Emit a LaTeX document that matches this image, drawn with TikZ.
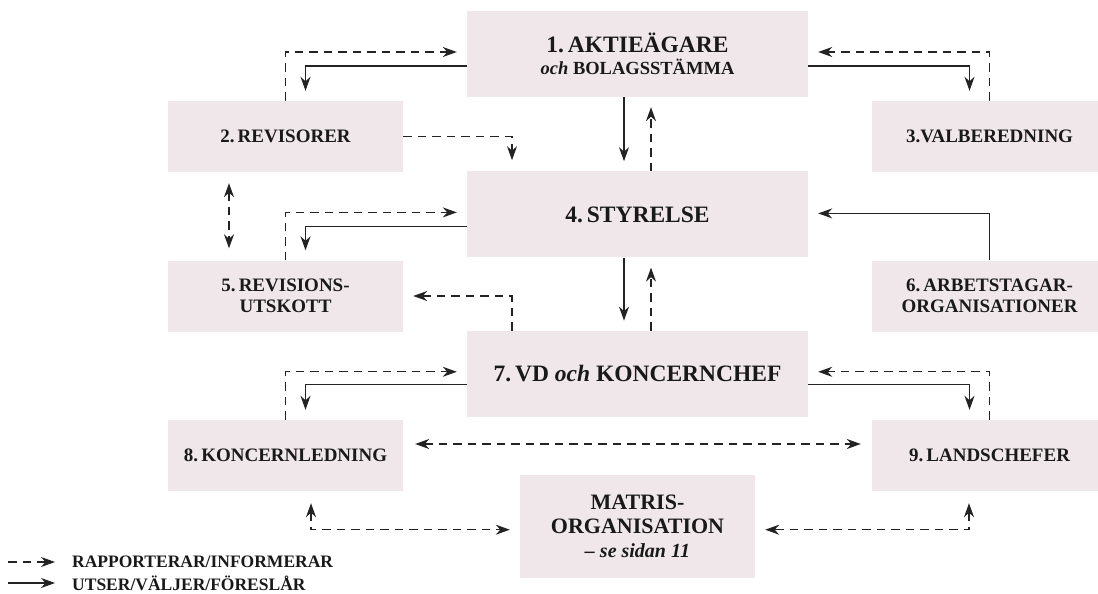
\documentclass[tikz,border=0pt]{standalone}
\usepackage{fontspec}
\setmainfont{Liberation Serif}
\usepackage{tikz}
\usetikzlibrary{arrows.meta, positioning, calc}
\definecolor{boxpink}{RGB}{240,231,235}
\definecolor{inkgray}{RGB}{25,25,25}
\definecolor{linegray}{RGB}{35,35,35}

\begin{document}
\begin{tikzpicture}[x=1pt, y=-1pt,
  >={Stealth[length=14pt, width=10pt, inset=4.5pt]},
  box/.style={fill=boxpink, inner sep=0pt, align=center, text=inkgray},
  mainbox/.style={box, minimum width=341pt, minimum height=86pt, font=\bfseries\fontsize{23.5}{22}\selectfont},
  sidebox/.style={box, minimum width=235pt, minimum height=71pt, font=\bfseries\fontsize{19}{20.5}\selectfont},
  matrisbox/.style={box, minimum width=235pt, minimum height=103pt, font=\bfseries\fontsize{22}{24}\selectfont},
  legendtext/.style={inner sep=0pt, anchor=west, text=inkgray, font=\bfseries\fontsize{17.5}{20}\selectfont},
  utser/.style={draw=linegray, line width=1.2pt, ->, shorten >=10pt},
  rapport/.style={draw=linegray, line width=1.2pt, dash pattern=on 8.5pt off 6pt, ->, shorten >=10pt}]
\useasboundingbox (0,0) rectangle (1098,594);

% middle column
\node[mainbox] (aktie) at (637.5,54) {1.\,AKTIEÄGARE\\{\fontsize{18.5}{20}\selectfont\textit{och} BOLAGSSTÄMMA}};
\node[mainbox, below=74pt of aktie] (styrelse) {4.\,STYRELSE};
\node[mainbox, below=73pt of styrelse] (vd) {7.\,VD \textit{och} KONCERNCHEF};
\node[matrisbox, below=58pt of vd] (matris) {MATRIS-\\ORGANISATION\\{\fontsize{20}{22}\selectfont\itshape -- se sidan 11}};

% side columns
\node[sidebox] (revisorer) at (285.5,136.5) {2.\,REVISORER};
\node[sidebox] (valberedning) at (989.5,136.5) {3.VALBEREDNING};
\node[sidebox] (utskott) at (285.5,296) {5.\,REVISIONS-\\UTSKOTT};
\node[sidebox] (arbetstagar) at (989.5,296) {6.\,ARBETSTAGAR-\\ORGANISATIONER};
\node[sidebox] (koncernledning) at (285.5,455.5) {8.\,KONCERNLEDNING};
\node[sidebox] (landschefer) at (989.5,455.5) {9.\,LANDSCHEFER};

% aktieagare
\draw[utser] ([yshift=-12pt]aktie.west) -| ([xshift=20pt]revisorer.north);
\draw[rapport] (revisorer.north) |- ([yshift=2pt]aktie.west);
\draw[utser] ([yshift=-12pt]aktie.east) -| ([xshift=-20pt]valberedning.north);
\draw[rapport] (valberedning.north) |- ([yshift=2pt]aktie.east);
\draw[utser] ([xshift=-13.5pt]aktie.south) -- ([xshift=-13.5pt]styrelse.north);
\draw[rapport] ([xshift=13.5pt]styrelse.north) -- ([xshift=13.5pt]aktie.south);
\draw[rapport, shorten >=11pt] (revisorer.east) -| ([xshift=-125.5pt]styrelse.north);
\draw[rapport, <->, shorten <=11pt, shorten >=12pt] ([xshift=-56.5pt]revisorer.south) -- ([xshift=-56.5pt]utskott.north);

% styrelse
\draw[utser] ([yshift=-12pt]styrelse.west) -| ([xshift=20pt]utskott.north);
\draw[rapport] (utskott.north) |- ([yshift=2pt]styrelse.west);
\draw[utser] (arbetstagar.north) |- ([yshift=1pt]styrelse.east);
\draw[utser] ([xshift=-13.5pt]styrelse.south) -- ([xshift=-13.5pt]vd.north);
\draw[rapport] ([xshift=13.5pt]vd.north) -- ([xshift=13.5pt]styrelse.south);
\draw[rapport] ([xshift=-125.5pt]vd.north) |- (utskott.east);

% vd och koncernchef
\draw[utser] ([yshift=-11pt]vd.west) -| ([xshift=20pt]koncernledning.north);
\draw[rapport] (koncernledning.north) |- ([yshift=2pt]vd.west);
\draw[utser] ([yshift=-11pt]vd.east) -| ([xshift=-20pt]landschefer.north);
\draw[rapport] (landschefer.north) |- ([yshift=2pt]vd.east);
\draw[rapport, <->, shorten <=12pt, shorten >=11pt] ([yshift=11.5pt]koncernledning.east) -- ([yshift=11.5pt]landschefer.west);
\draw[rapport, <->, shorten <=12pt] ([xshift=25.5pt]koncernledning.south) |- ([yshift=-3pt]matris.west);
\draw[rapport, <->, shorten <=12pt] ([xshift=-20.5pt]landschefer.south) |- ([yshift=-3pt]matris.east);

% legend
\node[legendtext] (rapText) at (72,562) {RAPPORTERAR/INFORMERAR};
\node[legendtext] (utsText) at (72,583) {UTSER/VÄLJER/FÖRESLÅR};
\coordinate (rapStart) at (8,562);
\coordinate (utsStart) at (8,583);
\draw[rapport, shorten >=17pt] (rapStart) -- (rapText.west);
\draw[utser, shorten >=17pt] (utsStart) -- (utsText.west);
\end{tikzpicture}
\end{document}
